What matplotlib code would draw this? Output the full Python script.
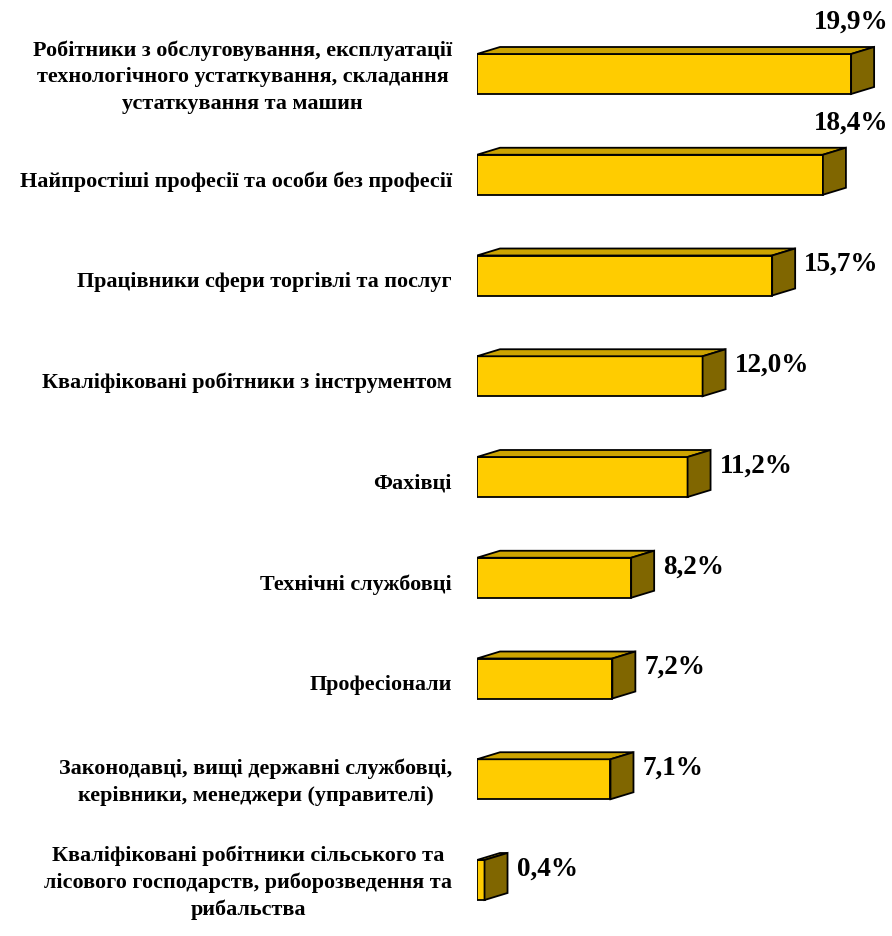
import matplotlib
matplotlib.use("Agg")
import matplotlib.pyplot as plt
from matplotlib.patches import Polygon
from matplotlib.transforms import offset_copy

categories = [
    "Робітники з обслуговування, експлуатації\nтехнологічного устаткування, складання\nустаткування та машин",
    "Найпростіші професії та особи без професії",
    "Працівники сфери торгівлі та послуг",
    "Кваліфіковані робітники з інструментом",
    "Фахівці",
    "Технічні службовці",
    "Професіонали",
    "Законодавці, вищі державні службовці,\nкерівники, менеджери (управителі)",
    "Кваліфіковані робітники сільського та\nлісового господарств, риборозведення та\nрибальства",
]
values = [19.9, 18.4, 15.7, 12.0, 11.2, 8.2, 7.2, 7.1, 0.4]
value_labels = ["19,9%", "18,4%", "15,7%", "12,0%", "11,2%", "8,2%", "7,2%", "7,1%", "0,4%"]

FRONT = "#FFCC00"
TOP = "#CCA300"
SIDE = "#806600"

W, H, DPI = 892, 937, 100
fig = plt.figure(figsize=(W / DPI, H / DPI), dpi=DPI)
fig.patch.set_facecolor("white")

ax_left = 477 / W
ax = fig.add_axes([ax_left, 0, 1 - ax_left, 1])
px_per_unit = 18.8
xmax = (W - 477) / px_per_unit
ax.set_xlim(0, xmax)
row_px = 100.75
first_c = 75
ytop = -first_c / row_px
ybot = (H - first_c) / row_px
ax.set_ylim(ybot, ytop)
ax.axis("off")

bar_h = 40 / row_px
dx = 23 / px_per_unit
dy = 7 / row_px

fam = ["Liberation Serif", "DejaVu Serif"]

for i, (v, lab) in enumerate(zip(values, value_labels)):
    y0 = i - bar_h / 2
    y1 = i + bar_h / 2
    front = Polygon([(0, y0), (v, y0), (v, y1), (0, y1)], closed=True,
                    facecolor=FRONT, edgecolor="black", lw=1.3, zorder=2)
    top = Polygon([(0, y0), (dx, y0 - dy), (v + dx, y0 - dy), (v, y0)], closed=True,
                  facecolor=TOP, edgecolor="black", lw=1.3, zorder=2)
    side = Polygon([(v, y0), (v + dx, y0 - dy), (v + dx, y1 - dy), (v, y1)], closed=True,
                   facecolor=SIDE, edgecolor="black", lw=1.3, zorder=2)
    for p in (front, top, side):
        ax.add_patch(p)

    if v > 17:
        tr = offset_copy(ax.transData, fig=fig, x=0, y=53, units="dots")
        ax.text(xmax - 4 / px_per_unit, i, lab, transform=tr, ha="right", va="center",
                fontsize=19.5, fontweight="bold", family=fam)
    else:
        tr = offset_copy(ax.transData, fig=fig, x=9, y=12, units="dots")
        ax.text(v + dx, i, lab, transform=tr, ha="left", va="center",
                fontsize=19.5, fontweight="bold", family=fam)

    multi = "\n" in categories[i]
    trc = offset_copy(ax.transData, fig=fig, x=-25, y=(-2 if multi else -6), units="dots")
    ax.text(0, i, categories[i], transform=trc, ha="right", va="center",
            multialignment="center", fontsize=15.9, fontweight="bold", family=fam,
            linespacing=1.42)

fig.savefig("out.png", dpi=DPI, facecolor="white")
